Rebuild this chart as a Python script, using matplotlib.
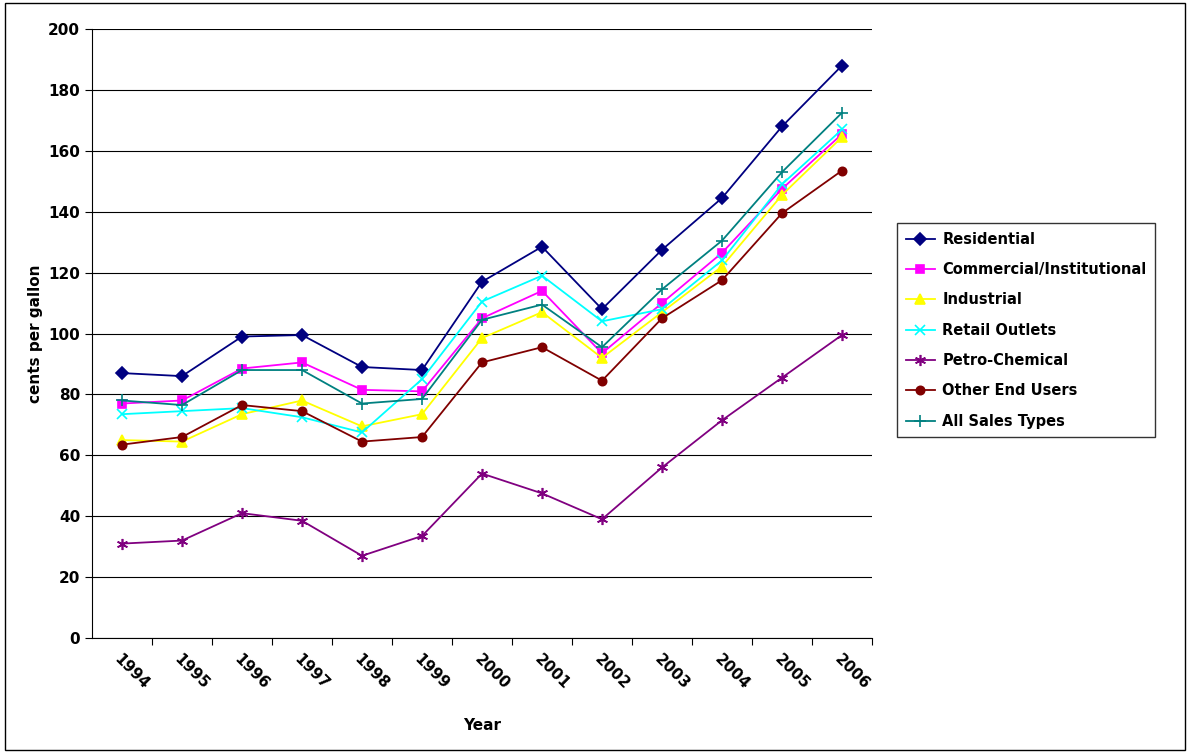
import matplotlib
matplotlib.use("Agg")
import matplotlib.pyplot as plt
from matplotlib.patches import Rectangle

years = [str(y) for y in range(1994, 2007)]
residential = [87,86,99,99.5,89,88,117,128.5,108,127.5,144.5,168,188]
commercial = [77,78,88.5,90.5,81.5,81,105,114,93.5,110,126.5,147.5,165.5]
industrial = [65,64.5,73.5,78,69.5,73.5,98.5,107,92,107,122,145.5,164.5]
retail = [73.5,74.5,75.5,72.5,67.5,85,110.5,119,104,108,124,149,167]
petro = [31,32,41,38.5,27,33.5,54,47.5,39,56,71.5,85.5,99.5]
other = [63.5,66,76.5,74.5,64.5,66,90.5,95.5,84.5,105,117.5,139.5,153.5]
allsales = [78,76.5,88,88,77,78.5,104.5,109.5,95.5,114.5,130.5,153,172.5]

series = [
    ("Residential", residential, "#000080", "D", 6),
    ("Commercial/Institutional", commercial, "#FF00FF", "s", 6),
    ("Industrial", industrial, "#FFFF00", "^", 7),
    ("Retail Outlets", retail, "#00FFFF", "x", 7),
    ("Petro-Chemical", petro, "#800080", (6, 2, 0), 8),
    ("Other End Users", other, "#800000", "o", 6),
    ("All Sales Types", allsales, "#008080", "+", 8),
]

fig = plt.figure(figsize=(11.9, 7.53), dpi=100)
ax = fig.add_axes([92/1190, 1-638/753, 780/1190, 609/753])
x = list(range(len(years)))
for name, vals, c, m, ms in series:
    ax.plot(x, vals, color=c, marker=m, markersize=ms, lw=1.3, label=name,
            markeredgecolor=c, markeredgewidth=1.2)
ax.set_xlim(-0.5, len(years)-0.5)
ax.set_ylim(0, 200)
ax.set_yticks(range(0, 201, 20))
ax.yaxis.grid(True, color="black", lw=0.8)
ax.set_axisbelow(True)
ax.set_xticks([i-0.5 for i in x[1:]] + [len(years)-0.5], minor=False)
ax.set_xticks(x, minor=True)
ax.set_xticklabels([])
ax.set_xticklabels(years, minor=True, rotation=-45, ha="left", rotation_mode="anchor",
                   fontsize=11, fontweight="bold")
ax.tick_params(axis="x", which="minor", length=0, pad=10)
ax.tick_params(axis="x", which="major", length=5, direction="out")
ax.tick_params(axis="y", labelsize=11, direction="out", length=5)
for lbl in ax.get_yticklabels():
    lbl.set_fontweight("bold")
for s in ["top", "right"]:
    ax.spines[s].set_visible(False)
ax.set_xlabel("Year", fontsize=11, fontweight="bold", labelpad=18)
ax.set_ylabel("cents per gallon", fontsize=11, fontweight="bold")
leg = fig.legend(loc="upper left", bbox_to_anchor=(897/1190, 1-223/753), frameon=True,
                 fancybox=False, edgecolor="black", labelspacing=1.05,
                 prop={"weight": "bold", "size": 10.5}, handlelength=2.0,
                 handletextpad=0.5, borderpad=0.6, borderaxespad=0)
fig.patches.append(Rectangle((0.004, 0.004), 0.992, 0.992, transform=fig.transFigure,
                             fill=False, edgecolor="black", lw=1))
fig.savefig("out.png", dpi=100)
